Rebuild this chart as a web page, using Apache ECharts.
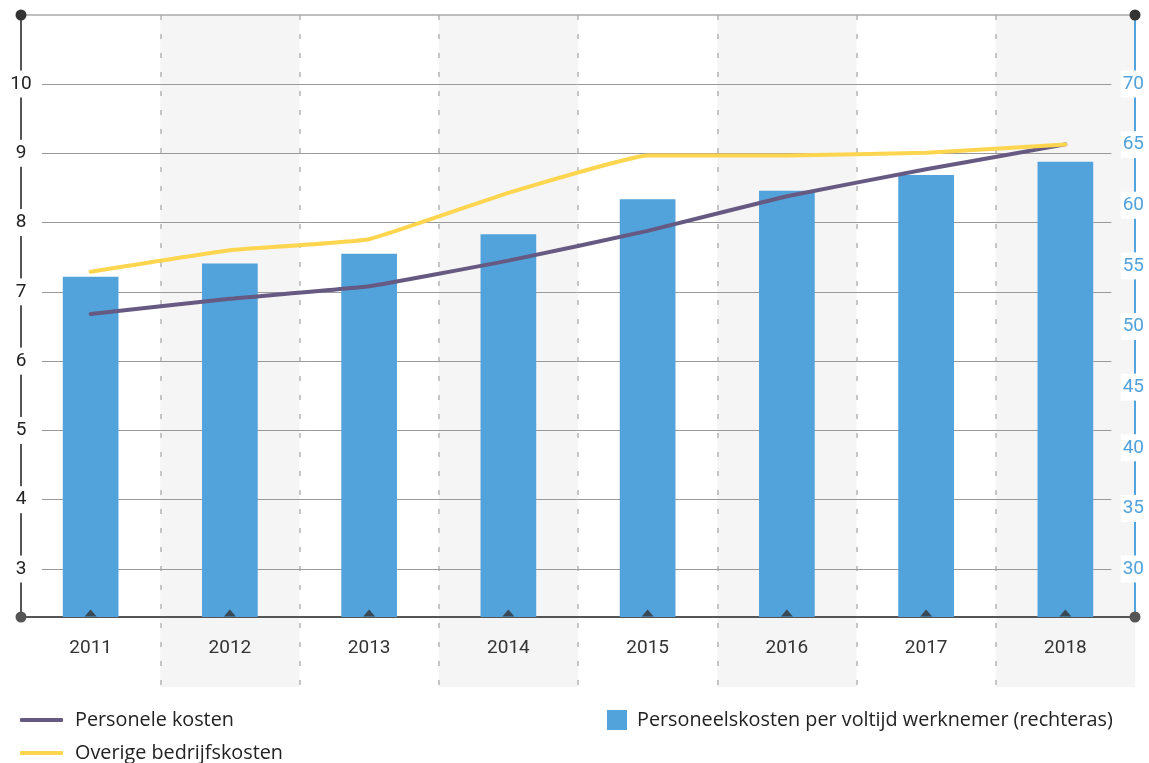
<!DOCTYPE html>
<html>
<head>
<meta charset="utf-8">
<script src="https://cdn.jsdelivr.net/npm/echarts@6/dist/echarts.min.js"></script>
<style>
html,body{margin:0;padding:0;background:#fff;}
#chart{width:1149px;height:763px;}
</style>
</head>
<body>
<div id="chart"></div>
<script>
const categories = ['2011', '2012', '2013', '2014', '2015', '2016', '2017', '2018'];
const personeleKosten = [6.68, 6.90, 7.08, 7.45, 7.88, 8.38, 8.77, 9.13];
const overigeBedrijfskosten = [7.29, 7.60, 7.76, 8.43, 8.97, 8.97, 9.01, 9.13];
const kostenPerVoltijd = [54.1, 55.2, 56.0, 57.6, 60.5, 61.2, 62.5, 63.6];
const leftTicks = { min: 3, max: 10, step: 1 };
const rightTicks = { min: 30, max: 70, step: 5 };
const seriesNames = ['Personele kosten', 'Overige bedrijfskosten', 'Personeelskosten per voltijd werknemer (rechteras)'];

// full plotted ranges (left axis extends below 3 and above 10)
const leftMin = 2.3, leftMax = 11;
const scaleR = (rightTicks.max - rightTicks.min) / (leftTicks.max - leftTicks.min);
const rightMin = rightTicks.min - (leftTicks.min - leftMin) * scaleR;
const rightMax = rightTicks.min + (leftMax - leftTicks.min) * scaleR;

const numFont = "Roboto, sans-serif";
const textFont = "'Open Sans', Lato, sans-serif";
const blue = '#52a2db';
const purple = '#665a82';
const yellow = '#fdd54e';

const lineLegendText = { fontFamily: textFont, fontSize: 19.8, color: '#222', lineHeight: 22, padding: [0, 0, 0, 7] };
const barLegendText = { fontFamily: textFont, fontSize: 19.8, color: '#222', lineHeight: 22, padding: [0, 0, 0, 5] };

const chart = echarts.init(document.getElementById('chart'));
chart.setOption({
  animation: false,
  grid: [
    { left: 21, right: 14, top: 15, bottom: 146 },   // data grid
    { left: 42, right: 36, top: 84, bottom: 194 },   // tick labels + gridlines
    { left: 21, right: 14, top: 15, bottom: 76 }     // column bands
  ],
  xAxis: [
    { gridIndex: 0, type: 'category', data: categories, position: 'bottom', z: 1,
      axisLine: { onZero: false, symbol: ['circle', 'circle'], symbolSize: [11, 11],
        lineStyle: { color: '#555', width: 2 } },
      axisTick: { show: false },
      axisLabel: { fontFamily: numFont, fontSize: 19, color: '#333', margin: 22 },
      splitLine: { show: false } },
    { gridIndex: 0, type: 'category', data: categories, position: 'top', z: 6,
      axisLine: { onZero: false, symbol: ['circle', 'circle'], symbolSize: [11, 11],
        lineStyle: { color: '#333', opacity: 0 } },
      axisTick: { show: false }, axisLabel: { show: false }, splitLine: { show: false } },
    { gridIndex: 0, type: 'category', data: categories, position: 'top', z: 1,
      axisLine: { onZero: false, lineStyle: { color: '#aaa', width: 1.5 } },
      axisTick: { show: false }, axisLabel: { show: false }, splitLine: { show: false } },
    { gridIndex: 1, type: 'category', data: categories, show: false },
    { gridIndex: 2, type: 'category', data: categories, z: 0,
      axisLine: { show: false }, axisTick: { show: false }, axisLabel: { show: false },
      splitArea: { show: true, areaStyle: { color: ['rgba(0,0,0,0)', '#f5f5f5'] } },
      splitLine: { show: true,
        lineStyle: { color: ['rgba(0,0,0,0)', '#b5b5b5', '#b5b5b5', '#b5b5b5', '#b5b5b5', '#b5b5b5', '#b5b5b5', '#b5b5b5', 'rgba(0,0,0,0)'],
          type: [5, 14], width: 1.5 } } }
  ],
  yAxis: [
    { gridIndex: 0, type: 'value', position: 'left', min: leftMin, max: leftMax, z: 1,
      axisLine: { show: true, lineStyle: { color: '#555', width: 2 } },
      axisTick: { show: false }, axisLabel: { show: false }, splitLine: { show: false } },
    { gridIndex: 0, type: 'value', position: 'right', min: rightMin, max: rightMax, z: 1,
      axisLine: { show: true, lineStyle: { color: blue, width: 2 } },
      axisTick: { show: false }, axisLabel: { show: false }, splitLine: { show: false } },
    { gridIndex: 1, type: 'value', position: 'left', min: leftTicks.min, max: leftTicks.max, interval: leftTicks.step, z: 2,
      axisLine: { show: false }, axisTick: { show: false },
      axisLabel: { fontFamily: numFont, fontSize: 19, color: '#222', align: 'center', margin: 21,
        backgroundColor: '#fff', padding: [4, 2] },
      splitLine: { show: true, lineStyle: { color: '#999', width: 1 } } },
    { gridIndex: 1, type: 'value', position: 'right', min: rightTicks.min, max: rightTicks.max, interval: rightTicks.step, z: 2,
      axisLine: { show: false }, axisTick: { show: false },
      axisLabel: { fontFamily: numFont, fontSize: 19, color: blue, align: 'center', margin: 22,
        backgroundColor: '#fff', padding: [4, 2] },
      splitLine: { show: false } },
    { gridIndex: 2, type: 'value', show: false, min: 0, max: 1 }
  ],
  legend: [
    { data: [seriesNames[0]], left: 20, top: 709, padding: 0,
      icon: 'roundRect', itemWidth: 43, itemHeight: 4, textStyle: lineLegendText },
    { data: [seriesNames[1]], left: 20, top: 742, padding: 0,
      icon: 'roundRect', itemWidth: 43, itemHeight: 4, textStyle: lineLegendText },
    { data: [seriesNames[2]], left: 607, top: 709, padding: 0,
      icon: 'rect', itemWidth: 20, itemHeight: 20, textStyle: barLegendText }
  ],
  series: [
    { name: seriesNames[2], type: 'bar', xAxisIndex: 0, yAxisIndex: 1, z: 3,
      data: kostenPerVoltijd, barWidth: '40%', itemStyle: { color: blue } },
    { name: seriesNames[0], type: 'line', xAxisIndex: 0, yAxisIndex: 0, z: 4,
      data: personeleKosten, symbol: 'none', smooth: 0.1,
      itemStyle: { color: purple }, lineStyle: { color: purple, width: 4, cap: 'round' } },
    { name: seriesNames[1], type: 'line', xAxisIndex: 0, yAxisIndex: 0, z: 4,
      data: overigeBedrijfskosten, symbol: 'none', smooth: 0.1,
      itemStyle: { color: yellow }, lineStyle: { color: yellow, width: 4, cap: 'round' } },
    { name: 'markers', type: 'scatter', xAxisIndex: 0, yAxisIndex: 0, z: 5, silent: true,
      data: categories.map(c => [c, leftMin]), symbol: 'triangle', symbolSize: [12, 7],
      symbolOffset: [0, -4], itemStyle: { color: '#333' } }
  ]
});
</script>
</body>
</html>
